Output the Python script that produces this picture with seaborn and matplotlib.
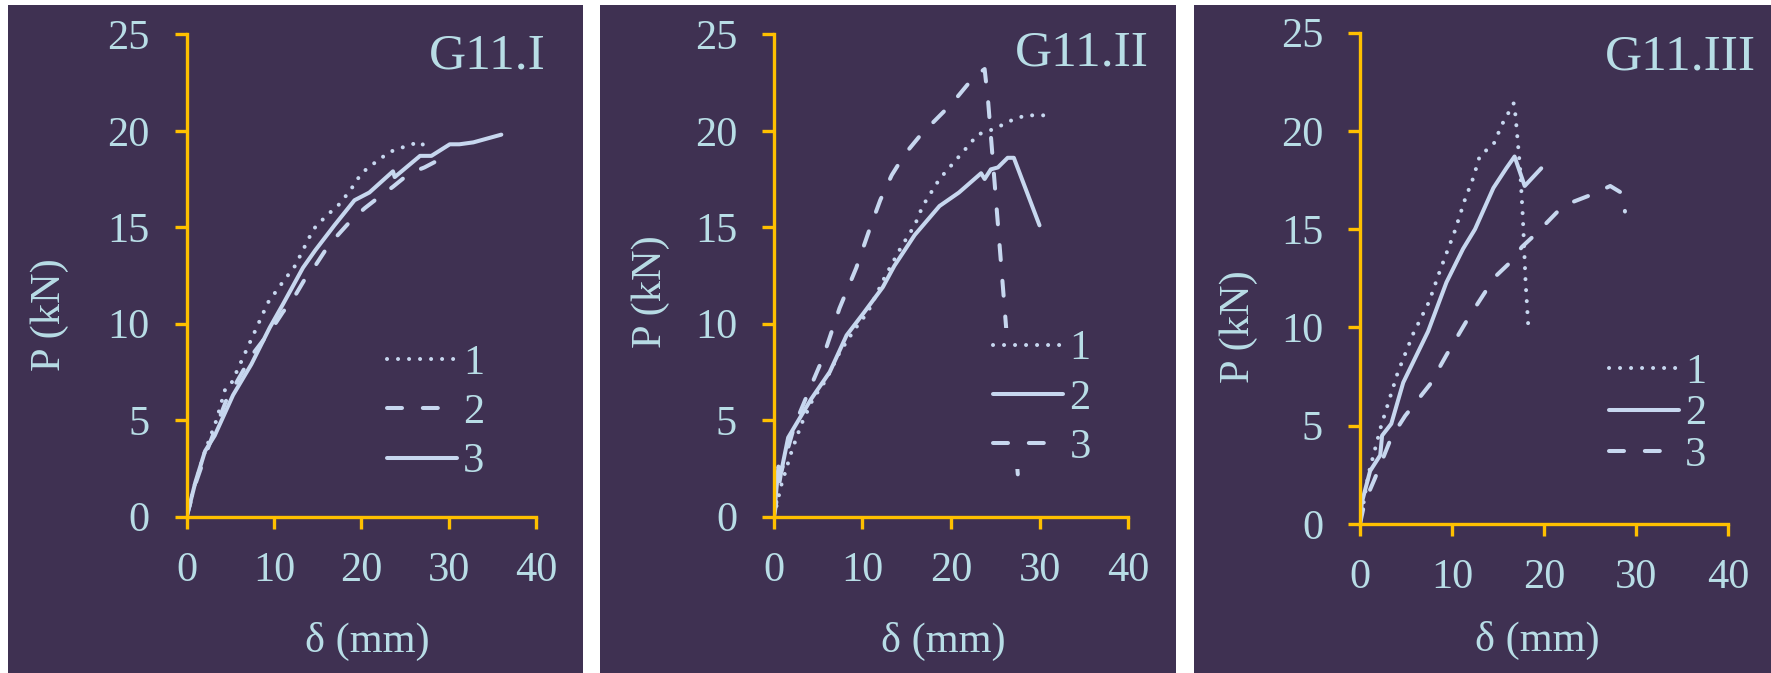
import matplotlib
matplotlib.use("Agg")
import matplotlib.pyplot as plt
import pandas as pd
import seaborn as sns
from matplotlib.lines import Line2D
from matplotlib.patches import Rectangle

# ---- G11.I : deflection (mm) / load (kN) for specimens 1, 2, 3 ----
g1_d1 = [0, 1.0, 2.1, 3.4, 4.4, 5.1, 7.2, 9.3, 10.9, 12.4, 14.5, 16.2, 17.1, 18.7, 20.0, 21.1, 23.2, 25.7, 26.9, 27.2]
g1_p1 = [0, 1.8, 3.4, 5.0, 6.6, 6.9, 9.0, 11.1, 12.1, 13.0, 14.9, 15.7, 16.0, 16.9, 17.8, 18.2, 18.9, 19.3, 19.4, 19.1]
g1_d2 = [0, 1.0, 2.3, 4.5, 7.5, 9.7, 11.0, 12.2, 13.5, 14.7, 16.0, 17.3, 18.9, 20.4, 22.1, 23.6, 25.5, 27.2, 29.3, 29.9]
g1_p2 = [0, 1.7, 3.4, 6.0, 8.4, 9.7, 10.6, 11.3, 12.3, 13.0, 13.9, 14.6, 15.4, 16.0, 16.6, 17.1, 17.8, 18.1, 18.6, 18.7]
g1_d3 = [0, 1.0, 2.1, 3.2, 5.3, 7.4, 9.5, 11.0, 13.3, 14.7, 16.9, 19.2, 20.9, 23.6, 23.8, 26.7, 28.0, 30.1, 31.2, 32.8, 36.0]
g1_p3 = [0, 1.8, 3.4, 4.2, 6.3, 7.9, 9.8, 11.0, 12.9, 13.8, 15.1, 16.4, 16.8, 17.9, 17.6, 18.7, 18.7, 19.3, 19.3, 19.4, 19.8]

# ---- G11.II ----
g2_d1 = [0, 0.8, 2.0, 3.1, 4.4, 5.9, 7.4, 9.1, 10.6, 12.5, 14.4, 15.9, 16.8, 18.7, 20.4, 22.1, 23.0, 24.9, 27.1, 28.5, 30.9]
g2_p1 = [0, 1.6, 3.4, 4.8, 6.1, 7.1, 8.5, 9.7, 10.6, 12.4, 14.0, 15.1, 16.1, 17.5, 18.4, 19.3, 19.8, 20.1, 20.6, 20.8, 20.8]
g2_d2 = [0, 0.5, 0.8, 1.6, 4.2, 6.3, 8.2, 10.2, 12.3, 13.6, 15.9, 18.7, 20.9, 23.4, 23.8, 24.5, 25.3, 26.4, 27.1, 30.0]
g2_p2 = [0, 2.6, 2.3, 4.1, 6.1, 7.5, 9.4, 10.6, 11.9, 13.0, 14.6, 16.1, 16.8, 17.8, 17.5, 18.0, 18.1, 18.6, 18.6, 15.1]
g2_d3 = [0, 0.8, 2.3, 4.2, 5.5, 7.4, 9.3, 10.8, 12.0, 13.3, 14.8, 16.6, 19.2, 20.8, 22.6, 23.8, 24.2, 27.6]
g2_p3 = [0, 2.3, 4.7, 6.8, 8.2, 10.8, 12.9, 14.9, 16.4, 17.7, 18.8, 19.8, 21.0, 21.8, 22.8, 23.2, 21.5, 1.9]

# ---- G11.III ----
g3_d1 = [0, 0.9, 2.3, 4.1, 5.8, 7.5, 8.7, 10.3, 11.4, 12.3, 13.0, 14.6, 15.4, 16.7, 16.9, 17.4, 17.7, 18.0, 18.3]
g3_p1 = [0, 2.5, 5.0, 7.7, 9.7, 11.3, 12.9, 14.9, 16.5, 17.6, 18.7, 19.4, 20.3, 21.4, 20.8, 18.1, 15.6, 12.3, 10.0]
g3_d2 = [0, 0.2, 1.1, 2.2, 2.4, 3.4, 4.7, 7.4, 9.4, 11.2, 12.5, 14.5, 15.9, 16.8, 17.9, 19.7]
g3_p2 = [0, 1.1, 2.7, 3.5, 4.5, 5.1, 7.2, 9.8, 12.3, 14.0, 15.0, 17.1, 18.1, 18.7, 17.2, 18.1]
g3_d3 = [0, 0.5, 1.6, 3.4, 4.9, 7.6, 9.4, 11.8, 13.6, 14.5, 16.3, 17.6, 19.2, 22.1, 25.4, 27.2, 28.6, 28.8]
g3_p3 = [0, 1.1, 2.3, 4.4, 5.5, 7.1, 8.6, 10.5, 11.8, 12.5, 13.3, 14.1, 14.8, 16.2, 16.8, 17.2, 16.8, 15.9]

curve_labels = ["1", "2", "3"]
titles = ["G11.I", "G11.II", "G11.III"]
x_ticks = [0, 10, 20, 30, 40]
y_ticks = [0, 5, 10, 15, 20, 25]

BG = "#3F3152"
AXIS = "#FFC000"
TEXT = "#B8DDE6"
LINE = "#C7D7EF"

# dash patterns in points (not scaled by line width)
DOT = (0.03, 7.9)
DASH = (10.8, 15.0)
SOLID = ""

sns.set_theme(style="white")
plt.rcParams["font.family"] = ["Liberation Serif", "DejaVu Serif"]
plt.rcParams["lines.scale_dashes"] = False

W, H = 1771, 673
fig = plt.figure(figsize=(W / 100, H / 100), dpi=100, facecolor="white")

# dark panel backgrounds
for x0, x1 in [(8, 583), (600, 1176), (1194, 1771)]:
    fig.patches.append(Rectangle((x0 / W, 0), (x1 - x0) / W, (H - 5) / H,
                                 transform=fig.transFigure, facecolor=BG,
                                 edgecolor="none", zorder=-10))

panels = [
    dict(rect=[0.10542, 0.23224, 0.19740, 0.71679],
         data=[(g1_d1, g1_p1), (g1_d2, g1_p2), (g1_d3, g1_p3)],
         styles=[DOT, DASH, SOLID],
         title_xy=(1.028, 0.955), ylab=(-0.338, 0.419), xlab=(0.516, -0.218),
         leg=(0.567, 0.362), lsp=0.25),
    dict(rect=[0.43704, 0.23224, 0.19989, 0.71679],
         data=[(g2_d1, g2_p1), (g2_d2, g2_p2), (g2_d3, g2_p3)],
         styles=[DOT, SOLID, DASH],
         title_xy=(1.058, 0.961), ylab=(-0.294, 0.466), xlab=(0.477, -0.218),
         leg=(0.613, 0.392), lsp=0.25),
    dict(rect=[0.76793, 0.22140, 0.20779, 0.73001],
         data=[(g3_d1, g3_p1), (g3_d2, g3_p2), (g3_d3, g3_p3)],
         styles=[DOT, SOLID, DASH],
         title_xy=(1.076, 0.951), ylab=(-0.277, 0.401), xlab=(0.481, -0.197),
         leg=(0.671, 0.352), lsp=0.07),
]

FS = 30.5
LW = 2.9

for title, p in zip(titles, panels):
    ax = fig.add_axes(p["rect"])
    ax.set_facecolor("none")

    frames = []
    for lab, (d, P) in zip(curve_labels, p["data"]):
        frames.append(pd.DataFrame({"d": d, "P": P, "curve": lab}))
    df = pd.concat(frames, ignore_index=True)
    dash_map = dict(zip(curve_labels, p["styles"]))

    sns.lineplot(data=df, x="d", y="P", style="curve", style_order=curve_labels,
                 dashes=dash_map, color=LINE, linewidth=LW, sort=False,
                 estimator=None, legend=False, ax=ax)
    for ln in ax.get_lines():
        ln.set_dash_capstyle("round")
        ln.set_solid_capstyle("round")
        ln.set_solid_joinstyle("round")
        ln.set_dash_joinstyle("round")

    ax.set_xlim(0, 40)
    ax.set_ylim(0, 25)
    ax.set_xticks(x_ticks)
    ax.set_yticks(y_ticks)
    for side in ["top", "right"]:
        ax.spines[side].set_visible(False)
    for side in ["left", "bottom"]:
        ax.spines[side].set_color(AXIS)
        ax.spines[side].set_linewidth(2.4)
    ax.tick_params(axis="both", colors=AXIS, labelcolor=TEXT, length=8.6,
                   width=2.4, direction="out", labelsize=FS,
                   bottom=True, left=True)
    ax.tick_params(axis="x", pad=16.5)
    ax.tick_params(axis="y", pad=18)

    ax.set_xlabel("δ (mm)", fontsize=FS, color=TEXT)
    ax.set_ylabel("P (kN)", fontsize=FS, color=TEXT)
    ax.xaxis.set_label_coords(*p["xlab"])
    ax.yaxis.set_label_coords(*p["ylab"])

    ax.text(p["title_xy"][0], p["title_xy"][1], title, transform=ax.transAxes,
            ha="right", va="center", fontsize=37, color=TEXT)

    handles = []
    for st in p["styles"]:
        if st == SOLID:
            h = Line2D([], [], color=LINE, lw=LW, linestyle="-",
                       solid_capstyle="round")
        else:
            h = Line2D([], [], color=LINE, lw=LW, dashes=st,
                       dash_capstyle="round")
        handles.append(h)
    ax.legend(handles, curve_labels, loc="upper left",
              bbox_to_anchor=p["leg"], borderaxespad=0, borderpad=0.05,
              frameon=True, facecolor=BG, edgecolor="none", framealpha=1,
              fancybox=False, fontsize=FS, labelcolor=TEXT,
              handlelength=1.65, handletextpad=0.15, labelspacing=p["lsp"])

fig.savefig("out.png", dpi=100, facecolor="white")
